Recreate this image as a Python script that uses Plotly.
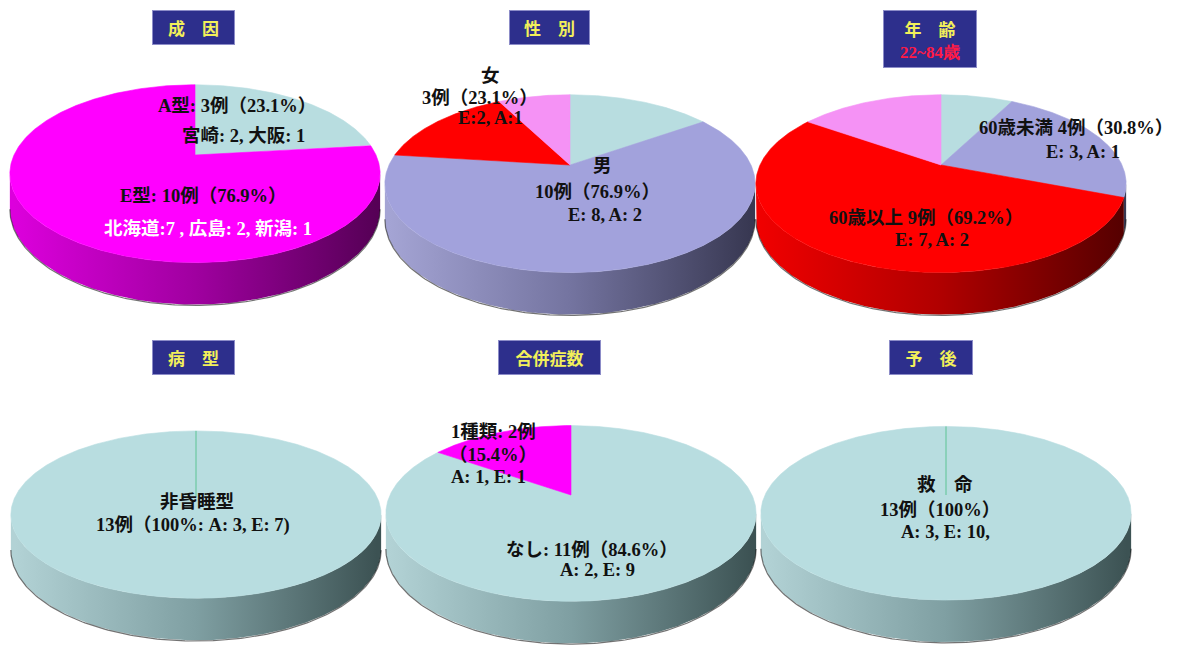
import numpy as np
import plotly.graph_objects as go

# ---------------- data ----------------
titles = ["成　因", "性　別", "年　齢", "病　型", "合併症数", "予　後"]
age_range = "22~84歳"

cause_values = [3, 10]            # A型, E型
sex_values = [2, 8, 2, 1]         # 男A, 男E, 女E, 女A
age_values = [1, 3, 7, 2]         # <60 A, <60 E, >=60 E, >=60 A
type_values = [13]                # 非昏睡型
comp_values = [11, 2]             # なし, 1種類
prog_values = [13]                # 救命

cause_labels = ["A型: 3例（23.1%）", "宮崎: 2, 大阪: 1", "E型: 10例（76.9%）", "北海道:7 , 広島: 2, 新潟: 1"]
sex_labels = ["女", "3例（23.1%）", "E:2, A:1", "男", "10例（76.9%）", "E: 8, A: 2"]
age_labels = ["60歳未満 4例（30.8%）", "E: 3, A: 1", "60歳以上 9例（69.2%）", "E: 7, A: 2"]
type_labels = ["非昏睡型", "13例（100%: A: 3, E: 7)"]
comp_labels = ["1種類: 2例", "（15.4%）", "A: 1, E: 1", "なし: 11例（84.6%）", "A: 2, E: 9"]
prog_labels = ["救　命", "13例（100%）", "A: 3, E: 10,"]

# ---------------- style ----------------
CY, MA, LA, RE, PK = "#b8dde0", "#ff00ff", "#a2a2dc", "#ff0000", "#f592f5"
SIDE = {
    CY: ["#b2d2d5", "#7f9fa2", "#3c5253"],
    MA: ["#dc00dc", "#a000a0", "#560056"],
    LA: ["#a4a4d4", "#7474a0", "#383852"],
    RE: ["#f00000", "#b00000", "#560000"],
    PK: ["#e890e8", "#b070b0", "#604060"],
}
A_, B_, P_, D_ = 181.0, 85.0, 0.21, 42.0

pies = [
    dict(values=cause_values, colors=[CY, MA], cx=195, cy=155, b=85),
    dict(values=sex_values, colors=[CY, LA, RE, PK], cx=570, cy=165, b=85),
    dict(values=age_values, colors=[CY, LA, RE, PK], cx=941, cy=165, b=85),
    dict(values=type_values, colors=[CY], cx=196, cy=497, b=80),
    dict(values=comp_values, colors=[CY, MA], cx=571, cy=495, b=84),
    dict(values=prog_values, colors=[CY], cx=946, cy=495, b=83),
]


def rim(cx, cy, ang, b=B_):
    t = np.radians(ang)
    w = 1 + P_ * np.cos(t)
    return cx + A_ * np.sin(t) / w, cy - b * np.cos(t) / w, w


fig = go.Figure()
lo = np.degrees(np.arccos(-P_))
hi = 360 - lo

# sides
for pie in pies:
    vals = np.array(pie["values"], float)
    ang = np.concatenate([[0], np.cumsum(vals) / vals.sum() * 360])
    for i, col in enumerate(pie["colors"]):
        a0, a1 = max(ang[i], lo), min(ang[i + 1], hi)
        if a1 <= a0:
            continue
        t = np.linspace(a0, a1, max(3, int(a1 - a0) * 2))
        x, y, w = rim(pie["cx"], pie["cy"], t, pie["b"])
        yb = y + D_ * (1 - P_) / w
        xs = np.concatenate([x, x[::-1], x[:1]])
        ys = np.concatenate([y, yb[::-1], y[:1]])
        sc = SIDE[col]
        fig.add_trace(go.Scatter(
            x=xs, y=ys, mode="lines", fill="toself", line=dict(width=0),
            fillgradient=dict(type="horizontal",
                              colorscale=[[0, sc[0]], [0.5, sc[1]], [1, sc[2]]],
                              start=pie["cx"] - A_, stop=pie["cx"] + A_),
            hoverinfo="skip", showlegend=False))
    # bottom shadow edge
    t = np.linspace(lo, hi, 200)
    x, y, w = rim(pie["cx"], pie["cy"], t, pie["b"])
    fig.add_trace(go.Scatter(x=x, y=y + D_ * (1 - P_) / w + 0.8, mode="lines",
                             line=dict(color="rgba(0,0,0,0.55)", width=1.2),
                             hoverinfo="skip", showlegend=False))

# top faces
for pie in pies:
    vals = np.array(pie["values"], float)
    ang = np.concatenate([[0], np.cumsum(vals) / vals.sum() * 360])
    for i, col in enumerate(pie["colors"]):
        a0, a1 = ang[i], ang[i + 1]
        t = np.linspace(a0, a1, max(3, int(a1 - a0) * 2))
        x, y, _ = rim(pie["cx"], pie["cy"], t, pie["b"])
        if len(vals) > 1:
            xs = np.concatenate([[pie["cx"]], x, [pie["cx"]]])
            ys = np.concatenate([[pie["cy"]], y, [pie["cy"]]])
        else:
            xs, ys = x, y
        fig.add_trace(go.Scatter(x=xs, y=ys, mode="lines", fill="toself",
                                 fillcolor=col, line=dict(color=col, width=0.6),
                                 hoverinfo="skip", showlegend=False))
    if len(vals) == 1:
        x0, y0, _ = rim(pie["cx"], pie["cy"], 0.0, pie["b"])
        fig.add_trace(go.Scatter(x=[pie["cx"], x0], y=[pie["cy"], y0], mode="lines",
                                 line=dict(color="#5cc494", width=1),
                                 hoverinfo="skip", showlegend=False))

# ---------------- text ----------------
FONT = "Liberation Serif, 'Noto Sans CJK JP', serif"
label_sets = [
    (cause_labels, [(237, 106), (243, 136), (203, 196), (208, 229)], ["#111", "#111", "#111", "#ffffff"]),
    (sex_labels, [(490, 76), (480, 98), (490, 118), (602, 166), (597, 192), (605, 215)], ["#111"] * 6),
    (age_labels, [(1076, 128), (1083, 152), (926, 218), (932, 240)], ["#111"] * 4),
    (type_labels, [(197, 502), (193, 525)], ["#111"] * 2),
    (comp_labels, [(493, 432), (493, 455), (488, 477), (592, 550), (597, 570)], ["#111"] * 5),
    (prog_labels, [(945, 485), (940, 510), (945, 532)], ["#111"] * 3),
]
for texts, pos, cols in label_sets:
    for t, (x, y), c in zip(texts, pos, cols):
        fig.add_annotation(x=x, y=y, xref="x", yref="y", text="<b>" + t + "</b>",
                           showarrow=False, font=dict(family=FONT, size=18.5, color=c))

boxes = [(193.5, 27.5, 83, 35), (549.5, 27.5, 81, 35), (930, 39, 94, 58),
         (193.5, 357.5, 83, 35), (549.5, 357.5, 103, 35), (931, 357.5, 84, 35)]
for i, (ttl, (x, y, w, h)) in enumerate(zip(titles, boxes)):
    txt = "<b>" + ttl + "</b>"
    if i == 2:
        txt += ("<br><span style='color:#ff1a45;font-family:Liberation Serif'><b>"
                + age_range + "</b></span>")
    fig.add_annotation(x=x, y=y, xref="x", yref="y", text=txt, showarrow=False,
                       width=w - 2, height=h - 2, bgcolor="#2d2f8c", bordercolor="#8c8cc8",
                       borderwidth=1, borderpad=0, align="center", valign="middle",
                       font=dict(family="'Noto Sans CJK JP', sans-serif", size=17, color="#f2f05a"))

fig.update_layout(
    width=1179, height=648, margin=dict(l=0, r=0, t=0, b=0),
    paper_bgcolor="white", plot_bgcolor="white", showlegend=False,
    xaxis=dict(range=[0, 1179], visible=False, fixedrange=True),
    yaxis=dict(range=[648, 0], visible=False, fixedrange=True),
)
fig.write_html("out.html")
